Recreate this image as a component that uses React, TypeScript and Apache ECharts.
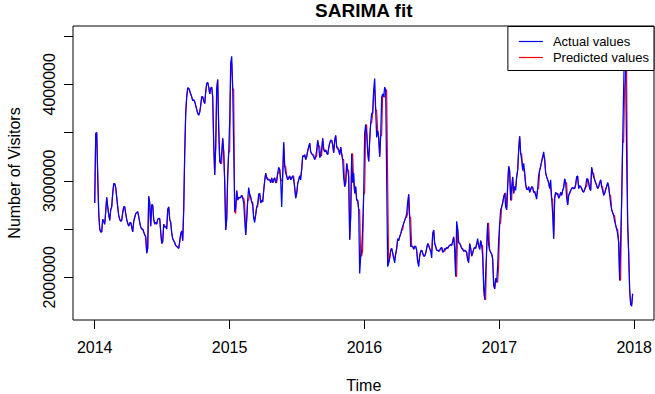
import React, { useEffect, useRef } from "react";
import * as echarts from "echarts";

// Daily-ish samples (one every ~2.7 days), values in millions of visitors
const START_YEAR = 2014;
const STEP_DAYS = 2.708;

const actual2014 = [
  2.77, 3.49, 3.5, 3.06, 2.67, 2.5, 2.47, 2.47, 2.6, 2.58,
  2.55, 2.68, 2.83, 2.73, 2.65, 2.59, 2.7, 2.73, 2.87, 2.97,
  2.97, 2.93, 2.83, 2.73, 2.64, 2.6, 2.58, 2.59, 2.67, 2.73,
  2.73, 2.66, 2.6, 2.56, 2.53, 2.56, 2.57, 2.52, 2.47, 2.58,
  2.62, 2.66, 2.67, 2.68, 2.63, 2.57, 2.52, 2.5, 2.5, 2.47,
  2.44, 2.42, 2.25, 2.3, 2.84, 2.77, 2.53, 2.75, 2.75, 2.6,
  2.55, 2.57, 2.55, 2.6, 2.61, 2.61, 2.47, 2.35, 2.37, 2.55,
  2.52, 2.53, 2.5, 2.7, 2.73, 2.6, 2.57, 2.46, 2.4, 2.38,
  2.36, 2.33, 2.32, 2.31, 2.3, 2.37, 2.45, 2.48, 2.38, 2.7,
  3.28, 3.7, 3.87, 3.96, 3.96, 3.93, 3.9, 3.87, 3.83, 3.84,
  3.82, 3.78, 3.74, 3.7, 3.68, 3.71, 3.78, 3.87, 3.87, 3.83,
  3.8, 3.92, 4.01, 4.02, 3.97, 3.9, 3.96, 3.97, 3.87, 3.39,
  3.06, 3.35, 3.95, 4.05, 3.55, 3.2, 3.18, 3.3, 3.44, 3.3,
  2.99, 2.49, 2.6, 3.05, 3.3,
];

const actual2015 = [
  3.62, 4.22, 4.29, 3.95, 3.35,
  2.68, 2.72, 2.9, 2.8, 2.83, 2.82, 2.83, 2.85, 2.82, 2.77,
  2.6, 2.44, 2.6, 2.8, 2.93, 2.86, 2.83, 2.78, 2.75, 2.61,
  2.57, 2.65, 2.73, 2.76, 2.86, 2.87, 2.77, 2.8, 2.78, 2.9,
  3.0, 3.08, 3.03, 3.01, 3.01, 3.01, 2.98, 3.03, 2.98, 3.01,
  3.03, 2.98, 3.01, 3.08, 3.14, 3.12, 3.0, 2.73, 3.05, 3.4,
  3.15, 3.08, 3.05, 3.01, 3.03, 3.05, 3.01, 3.03, 3.05, 3.01,
  2.93, 2.82, 2.87, 2.97, 3.01, 3.05, 3.01, 3.12, 3.26, 3.25,
  3.27, 3.22, 3.25, 3.31, 3.35, 3.39, 3.3, 3.28, 3.27, 3.25,
  3.22, 3.25, 3.32, 3.42, 3.36, 3.24, 3.26, 3.33, 3.44, 3.33,
  3.3, 3.32, 3.29, 3.27, 3.34, 3.39, 3.42, 3.42, 3.37, 3.29,
  3.42, 3.47, 3.35, 3.33, 3.32, 3.27, 3.35, 3.28, 3.22, 3.03,
  2.94, 2.98, 3.18, 3.11, 3.04, 2.39, 2.63, 3.28, 2.98, 3.08,
  2.87, 2.94, 2.8, 2.8, 2.7, 2.04, 2.22, 2.28, 2.52, 2.87,
];

const actual2016 = [
  3.5, 3.58, 3.48, 3.3, 3.2, 3.42, 3.6, 3.7, 3.7, 3.94,
  4.06, 3.73, 3.45, 3.52, 3.45, 3.25, 3.47, 3.87, 3.9, 3.87,
  3.97, 3.94, 3.0, 2.11, 2.15, 2.2, 2.28, 2.3, 2.25, 2.2,
  2.15, 2.24, 2.3, 2.4, 2.38, 2.42, 2.45, 2.49, 2.53, 2.56,
  2.59, 2.62, 2.66, 2.78, 2.86, 2.62, 2.32, 2.32, 2.32, 2.29,
  2.32, 2.32, 2.28, 2.16, 2.11, 2.22, 2.27, 2.28, 2.25, 2.22,
  2.22, 2.25, 2.3, 2.35, 2.33, 2.3, 2.27, 2.2, 2.45, 2.49,
  2.35, 2.32, 2.28, 2.28, 2.27, 2.28, 2.3, 2.31, 2.26, 2.27,
  2.3, 2.29, 2.31, 2.3, 2.32, 2.33, 2.34, 2.33, 2.37, 2.42,
  2.3, 2.01, 2.58, 2.5, 2.36, 2.35, 2.33, 2.3, 2.29, 2.27,
  2.28, 2.27, 2.26, 2.18, 2.15, 2.35, 2.3, 2.22, 2.25, 2.29,
  2.31, 2.3, 2.35, 2.4, 2.33, 2.29, 2.38, 2.33, 2.22, 1.9,
  1.77, 2.04, 2.3, 2.56, 2.33, 2.28, 2.26, 2.24, 2.19, 1.92,
  1.88, 1.99, 1.95, 2.12, 2.38,
];

const actual2017 = [
  2.56, 2.7, 2.73, 2.77, 2.83,
  2.87, 2.73, 2.7, 2.95, 3.15, 3.1, 2.8, 2.94, 3.04, 2.87,
  2.94, 2.9, 3.04, 3.11, 3.32, 3.46, 3.28, 3.22, 3.11, 3.18,
  3.08, 2.96, 2.91, 2.91, 2.94, 2.88, 2.91, 2.94, 2.93, 2.88,
  2.89, 2.85, 2.81, 2.92, 3.06, 3.11, 3.15, 3.2, 3.25, 3.3,
  3.22, 3.08, 3.04, 3.01, 2.98, 2.92, 3.01, 2.81, 2.66, 2.4,
  2.82, 2.88, 2.86, 2.87, 2.82, 2.84, 2.88, 2.85, 2.9, 2.93,
  3.02, 2.98, 2.82, 2.75, 2.85, 2.87, 2.9, 2.92, 2.93, 2.92,
  2.92, 2.96, 3.04, 3.05, 2.92, 2.95, 2.94, 2.92, 2.89, 2.88,
  2.91, 2.94, 3.02, 3.02, 2.98, 2.92, 2.9, 3.14, 3.08, 3.04,
  3.01, 2.98, 2.95, 2.92, 2.94, 2.98, 3.01, 2.94, 2.9, 2.85,
  2.87, 2.91, 2.94, 2.98, 2.94, 2.85, 2.76, 2.7, 2.67, 2.64,
  2.58, 2.54, 2.5, 2.45, 2.36, 1.97, 2.4, 2.8, 3.4, 3.97,
  4.49, 4.15, 3.2, 2.56, 2.25, 1.87, 1.72, 1.7, 1.83,
];

// Fitted (predicted) values where they differ from the actual values: [sample index, millions]
const predictedDiffs: [number, number][] = [
  [127, 3.18], [135, 3.3], [137, 4.22], [139, 3.95], [141, 2.66], [149, 2.82], [150, 2.77],
  [154, 2.8], [158, 2.78], [160, 2.61], [163, 2.73], [173, 3.03], [182, 2.98], [184, 3.08],
  [187, 3.0], [191, 3.15], [199, 3.05], [206, 3.05], [219, 3.27], [222, 3.25], [225, 3.36],
  [227, 3.26], [243, 3.35], [249, 3.22], [254, 3.11], [258, 3.28], [259, 2.98], [265, 2.7],
  [267, 2.22], [268, 2.28], [270, 2.87], [272, 3.58], [277, 3.6], [278, 3.7], [280, 3.94],
  [282, 3.73], [287, 3.47], [290, 3.87], [292, 3.94], [293, 3.0], [300, 2.2], [308, 2.49],
  [312, 2.62], [313, 2.66], [316, 2.62], [324, 2.16], [330, 2.22], [337, 2.27], [350, 2.27],
  [362, 2.01], [368, 2.3], [374, 2.18], [383, 2.35], [388, 2.33], [391, 1.77], [394, 2.56],
  [403, 1.95], [404, 2.12], [406, 2.56], [411, 2.87], [417, 2.8], [421, 2.94], [427, 3.28],
  [429, 3.11], [442, 2.85], [444, 2.92], [449, 3.25], [456, 2.92], [458, 2.81], [472, 2.98],
  [489, 2.89], [492, 2.94], [499, 3.08], [508, 2.94], [516, 2.85], [520, 2.64], [523, 2.5],
  [526, 1.97], [529, 3.4], [530, 3.97], [532, 4.15], [537, 1.72],
];

const xTicks = [2014, 2015, 2016, 2017, 2018];
const yTicks = [2000000, 2500000, 3000000, 3500000, 4000000, 4500000];
const yLabelValues = [2000000, 3000000, 4000000];
const legendNames = ["Actual values", "Predicted values"];

const FONT = "'Liberation Sans', Arial, sans-serif";

export default function App() {
  const ref = useRef<HTMLDivElement>(null);

  useEffect(() => {
    if (!ref.current) return;
    const chart = echarts.init(ref.current, null, { renderer: "svg" });

    const actualM = [...actual2014, ...actual2015, ...actual2016, ...actual2017];
    const toYear = (i: number) => START_YEAR + (i * STEP_DAYS) / 365.25;
    const predictedM = actualM.slice();
    for (const [i, v] of predictedDiffs) predictedM[i] = v;

    const actualData = actualM.map((v, i) => [toYear(i), v * 1e6]);
    const predictedData = predictedM.map((v, i) => [toYear(i), v * 1e6]);

    const textStyle = (size: number, weight: string = "normal") => ({
      font: `${weight} ${size}px ${FONT}`,
      fill: "#000",
      textAlign: "center",
      textVerticalAlign: "middle",
      align: "center",
      verticalAlign: "middle",
    });

    chart.setOption({
      animation: false,
      grid: {
        left: 73,
        top: 26,
        right: 1,
        bottom: 74,
        show: true,
        borderColor: "#000",
        borderWidth: 1,
        backgroundColor: "transparent",
      },
      legend: {
        data: legendNames.map((name) => ({ name, icon: "rect" })),
        orient: "vertical",
        right: 1,
        top: 26.5,
        z: 50,
        zlevel: 1,
        backgroundColor: "#fff",
        borderColor: "#000",
        borderWidth: 1,
        borderRadius: 0,
        padding: [8, 5, 6, 11],
        itemWidth: 24,
        itemHeight: 1.2,
        itemGap: 2,
        selectedMode: false,
        textStyle: {
          fontSize: 13,
          lineHeight: 14,
          fontFamily: FONT,
          color: "#000",
          padding: [0, 0, 0, 5],
        },
      },
      xAxis: {
        type: "value",
        min: 2013.839,
        max: 2018.147,
        axisLine: { show: false },
        splitLine: { show: false },
        axisTick: {
          show: true,
          customValues: xTicks,
          length: 9,
          lineStyle: { color: "#000", width: 1 },
        },
        axisLabel: {
          customValues: xTicks,
          color: "#000",
          fontSize: 16,
          fontFamily: FONT,
          margin: 19,
          formatter: (v: number) => String(v),
        },
      },
      yAxis: {
        type: "value",
        min: 1557600,
        max: 4604000,
        axisLine: { show: false },
        splitLine: { show: false },
        axisTick: {
          show: true,
          customValues: yTicks,
          length: 9,
          lineStyle: { color: "#000", width: 1 },
        },
        axisLabel: {
          customValues: yLabelValues,
          color: "#000",
          fontSize: 16,
          fontFamily: FONT,
          rotate: 90,
          margin: 16,
          formatter: (v: number) => String(v),
        },
      },
      series: [
        {
          name: "Predicted values",
          type: "line",
          data: predictedData,
          showSymbol: false,
          symbol: "none",
          silent: true,
          color: "#ff0000",
          lineStyle: { color: "#ff0000", width: 1.1 },
          z: 2,
        },
        {
          name: "Actual values",
          type: "line",
          data: actualData,
          showSymbol: false,
          symbol: "none",
          silent: true,
          color: "#0000ff",
          lineStyle: { color: "#0000ff", width: 1.25 },
          z: 3,
        },
      ],
      graphic: [
        {
          type: "text",
          x: 363.8,
          y: 10,
          style: { text: "SARIMA fit", ...textStyle(19, "bold") },
        },
        {
          type: "text",
          x: 363.8,
          y: 385,
          style: { text: "Time", ...textStyle(16) },
        },
        {
          type: "text",
          x: 14,
          y: 173,
          rotation: Math.PI / 2,
          style: { text: "Number of Visitors", ...textStyle(16) },
        },
      ],
    });

    return () => {
      chart.dispose();
    };
  }, []);

  return (
    <div
      ref={ref}
      style={{ position: "absolute", left: 0, top: 0, width: 655, height: 394 }}
    />
  );
}
